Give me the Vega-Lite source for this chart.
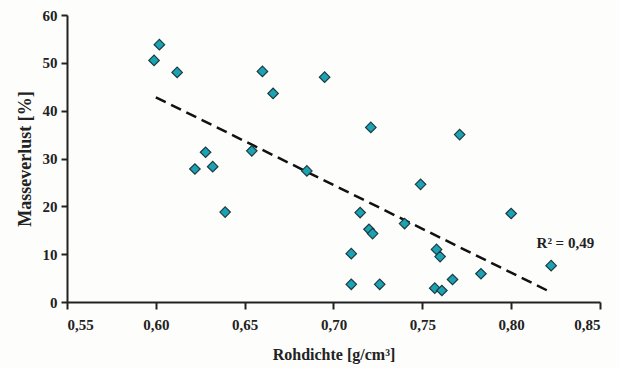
{
  "$schema": "https://vega.github.io/schema/vega-lite/v6.json",
  "autosize": "none",
  "width": 533,
  "height": 287,
  "padding": {"left": 67, "top": 15, "right": 20, "bottom": 66},
  "background": "#fdfdfc",
  "config": {
    "view": {"stroke": null},
    "font": "Liberation Serif",
    "axis": {
      "labelFont": "Liberation Serif",
      "labelFontWeight": "bold",
      "labelFontSize": 15,
      "labelColor": "#222",
      "titleFont": "Liberation Serif",
      "titleFontWeight": "bold",
      "titleColor": "#222",
      "domainColor": "#222",
      "domainWidth": 2,
      "tickColor": "#222",
      "tickWidth": 2,
      "grid": false
    }
  },
  "datasets": {
    "points": [
      {"dichte": 0.599, "verlust": 50.5},
      {"dichte": 0.602, "verlust": 53.8},
      {"dichte": 0.612, "verlust": 48.0},
      {"dichte": 0.660, "verlust": 48.2},
      {"dichte": 0.666, "verlust": 43.6},
      {"dichte": 0.628, "verlust": 31.3},
      {"dichte": 0.622, "verlust": 27.8},
      {"dichte": 0.632, "verlust": 28.3},
      {"dichte": 0.654, "verlust": 31.6},
      {"dichte": 0.685, "verlust": 27.4},
      {"dichte": 0.695, "verlust": 47.0},
      {"dichte": 0.721, "verlust": 36.5},
      {"dichte": 0.771, "verlust": 35.0},
      {"dichte": 0.749, "verlust": 24.6},
      {"dichte": 0.639, "verlust": 18.8},
      {"dichte": 0.715, "verlust": 18.7},
      {"dichte": 0.720, "verlust": 15.2},
      {"dichte": 0.722, "verlust": 14.3},
      {"dichte": 0.740, "verlust": 16.4},
      {"dichte": 0.710, "verlust": 10.1},
      {"dichte": 0.710, "verlust": 3.7},
      {"dichte": 0.726, "verlust": 3.7},
      {"dichte": 0.758, "verlust": 11.0},
      {"dichte": 0.760, "verlust": 9.5},
      {"dichte": 0.757, "verlust": 2.9},
      {"dichte": 0.761, "verlust": 2.4},
      {"dichte": 0.767, "verlust": 4.7},
      {"dichte": 0.783, "verlust": 5.9},
      {"dichte": 0.800, "verlust": 18.5},
      {"dichte": 0.8225, "verlust": 7.6}
    ],
    "trend": [
      {"dichte": 0.600, "verlust": 42.8},
      {"dichte": 0.822, "verlust": 2.1}
    ],
    "label": [
      {"dichte": 0.8305, "verlust": 12.3, "text": "R² = 0,49"}
    ]
  },
  "encoding": {
    "x": {
      "field": "dichte",
      "type": "quantitative",
      "scale": {"domain": [0.55, 0.85], "nice": false, "zero": false},
      "axis": {
        "title": "Rohdichte [g/cm³]",
        "titleFontSize": 16,
        "values": [0.55, 0.6, 0.65, 0.7, 0.75, 0.8, 0.85],
        "labelExpr": "replace(format(datum.value, '.2f'), '.', ',')",
        "tickSize": 7,
        "labelPadding": 8,
        "titlePadding": 14
      }
    },
    "y": {
      "field": "verlust",
      "type": "quantitative",
      "scale": {"domain": [0, 60], "nice": false},
      "axis": {
        "title": "Masseverlust [%]",
        "titleFontSize": 18,
        "values": [0, 10, 20, 30, 40, 50, 60],
        "tickSize": 6,
        "labelPadding": 4,
        "titlePadding": 8
      }
    }
  },
  "layer": [
    {
      "data": {"name": "trend"},
      "mark": {"type": "line", "color": "#111", "strokeWidth": 2.5, "strokeDash": [11, 6]}
    },
    {
      "data": {"name": "points"},
      "mark": {"type": "point", "shape": "diamond", "size": 110, "filled": true, "fill": "#1ba3b3", "stroke": "#1d3a40", "strokeWidth": 1.2, "opacity": 1}
    },
    {
      "data": {"name": "label"},
      "mark": {"type": "text", "font": "Liberation Serif", "fontWeight": "bold", "fontSize": 15, "color": "#222", "align": "center", "baseline": "middle"},
      "encoding": {"text": {"field": "text"}}
    }
  ]
}
